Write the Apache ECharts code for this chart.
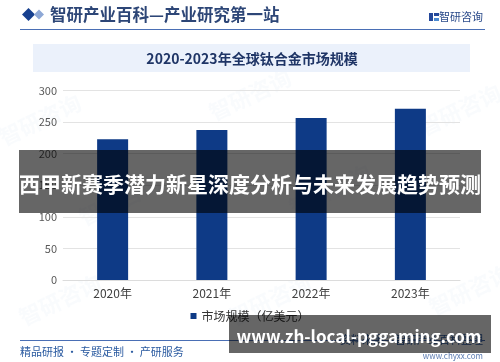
<!DOCTYPE html>
<html>
<head>
<meta charset="utf-8">
<script src="https://cdn.jsdelivr.net/npm/echarts@6/dist/echarts.min.js"></script>
<style>
html,body{margin:0;padding:0;background:#fff;}
#c{width:500px;height:362px;}
</style>
</head>
<body>
<div id="c"></div>
<script>
const categories = ['2020年', '2021年', '2022年', '2023年'];
const marketSize = [222.6, 237.3, 256.3, 271.1];
const yTicks = [0, 50, 100, 150, 200, 250, 300];
const seriesName = '市场规模（亿美元）';
const chartTitle = '2020-2023年全球钛合金市场规模';
const headerText = '智研产业百科—产业研究第一站';
const brandText = '智研咨询';
const footerLeft = '精品研报 · 专题定制 · 产研服务';
const footerRight = '资料来源：智研产业百科整理';
const footerUrl = 'www.chyxx.com';
const bannerText = '西甲新赛季潜力新星深度分析与未来发展趋势预测';
const urlBanner = 'www.zh-local-pggaming.com';

const FONT = "'Noto Sans CJK SC', 'Noto Sans', sans-serif";
const chart = echarts.init(document.getElementById('c'), null, {renderer: 'canvas'});

const watermarks = [];
[[40,120],[250,95],[460,110],[120,200],[330,190],[60,300],[270,300],[470,290]].forEach(p => {
  watermarks.push({
    type: 'text', x: p[0], y: p[1], rotation: Math.PI / 7, z: 0,
    style: {text: '智研咨询', fill: 'rgba(200,212,235,0.1)', font: 'bold 22px ' + FONT, textAlign: 'center', textVerticalAlign: 'middle'}
  });
});

chart.setOption({
  backgroundColor: '#ffffff',
  animation: false,
  textStyle: {fontFamily: FONT},
  grid: {left: 63, right: 40, top: 90.4, bottom: 82, containLabel: false},
  legend: {
    data: [seriesName], top: 305, left: 'center', icon: 'rect', itemWidth: 6, itemHeight: 6, itemGap: 4,
    textStyle: {fontSize: 12, color: '#333', fontFamily: FONT}
  },
  xAxis: {
    type: 'category', data: categories,
    axisLine: {show: true, lineStyle: {color: '#dcdcdc'}},
    axisTick: {show: false},
    axisLabel: {color: '#404040', fontSize: 12, margin: 7, fontFamily: FONT}
  },
  yAxis: {
    type: 'value', min: yTicks[0], max: yTicks[yTicks.length - 1], interval: yTicks[1] - yTicks[0],
    axisLine: {show: false}, axisTick: {show: false},
    axisLabel: {color: '#595959', fontSize: 11, margin: 6, fontFamily: FONT},
    splitLine: {lineStyle: {color: '#e3e3e3'}}
  },
  series: [{
    name: seriesName, type: 'bar', data: marketSize, barWidth: 31,
    itemStyle: {color: '#0e3a86'}
  }],
  graphic: watermarks.concat([
    // header
    {type: 'polygon', z: 50, shape: {points: [[28.5, 8], [35, 14.5], [28.5, 21], [22, 14.5]]}, style: {fill: '#17408f'}},
    {type: 'polygon', z: 50, shape: {points: [[39, 9.5], [44, 14.5], [39, 19.5], [34, 14.5]]}, style: {fill: '#8ea8d6'}},
    {type: 'text', x: 50, y: 15, z: 50, style: {text: headerText, fill: '#2d4677', font: 'bold 16.5px ' + FONT, textVerticalAlign: 'middle'}},
    {type: 'rect', z: 50, shape: {x: 429, y: 13, width: 4, height: 8}, style: {fill: '#24489a'}},
    {type: 'rect', z: 50, shape: {x: 434, y: 13, width: 5, height: 3}, style: {fill: '#24489a'}},
    {type: 'rect', z: 50, shape: {x: 434, y: 18, width: 5, height: 3}, style: {fill: '#4b8ad0'}},
    {type: 'text', x: 483, y: 17, z: 50, style: {text: brandText, fill: '#2a4a8a', font: '11px ' + FONT, textAlign: 'right', textVerticalAlign: 'middle'}},
    {type: 'line', z: 50, shape: {x1: 20, y1: 29.5, x2: 485, y2: 29.5}, style: {stroke: '#4a6fb5', lineWidth: 1}},
    // chart title box
    {type: 'rect', z: 1, shape: {x: 33, y: 44, width: 437, height: 28}, style: {fill: '#ebf1fb'}},
    {type: 'text', x: 252, y: 59, z: 50, style: {text: chartTitle, fill: '#1f3566', font: 'bold 14px ' + FONT, textAlign: 'center', textVerticalAlign: 'middle'}},
    // footer
    {type: 'line', z: 50, shape: {x1: 20, y1: 340.5, x2: 485, y2: 340.5}, style: {stroke: '#4a6fb5', lineWidth: 1}},
    {type: 'text', x: 20, y: 352, z: 50, style: {text: footerLeft, fill: '#2a5aa0', font: '11px ' + FONT, textVerticalAlign: 'middle'}},
    {type: 'text', x: 483, y: 340, z: 50, style: {text: footerRight, fill: '#2a5aa0', font: '11px ' + FONT, textAlign: 'right', textVerticalAlign: 'middle'}},
    {type: 'text', x: 483, y: 356, z: 50, style: {text: footerUrl, fill: '#5a7ab0', font: '8px ' + FONT, textAlign: 'right', textVerticalAlign: 'middle'}},
    // overlay banners
    {type: 'rect', z: 100, shape: {x: 19, y: 150, width: 462, height: 63}, style: {fill: 'rgba(0,0,0,0.6)'}},
    {type: 'text', x: 250, y: 184, z: 101, style: {text: bannerText, fill: '#ffffff', font: 'bold 21px ' + FONT, textAlign: 'center', textVerticalAlign: 'middle'}},
    {type: 'rect', z: 100, shape: {x: 229, y: 315, width: 262, height: 38}, style: {fill: 'rgba(0,0,0,0.6)'}},
    {type: 'text', x: 359, y: 337, z: 101, style: {text: urlBanner, fill: '#ffffff', font: 'bold 17px ' + FONT, textAlign: 'center', textVerticalAlign: 'middle'}}
  ])
});
</script>
</body>
</html>
